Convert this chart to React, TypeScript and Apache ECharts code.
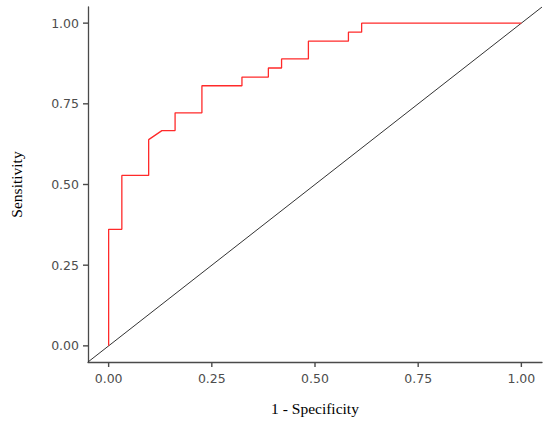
import React, { useEffect, useRef } from "react";
import * as echarts from "echarts";

// ROC curve vertices (1 - specificity, sensitivity)
const fpr = [0, 0, 0.032, 0.032, 0.097, 0.097, 0.129, 0.161, 0.161, 0.226, 0.226, 0.323, 0.323, 0.387, 0.387, 0.419, 0.419, 0.484, 0.484, 0.581, 0.581, 0.613, 0.613, 1];
const tpr = [0, 0.361, 0.361, 0.528, 0.528, 0.639, 0.667, 0.667, 0.722, 0.722, 0.806, 0.806, 0.833, 0.833, 0.861, 0.861, 0.889, 0.889, 0.944, 0.944, 0.972, 0.972, 1, 1];

// reference diagonal endpoints
const diagX = [-0.05, 1.05];
const diagY = [-0.05, 1.05];

const axisMin = -0.05;
const axisMax = 1.05;
const tickValues = [0, 0.25, 0.5, 0.75, 1];
const xTitle = "1 - Specificity";
const yTitle = "Sensitivity";

const axisColor = "#4a4a4a";
const tickLen = 5;

export default function App() {
  const ref = useRef<HTMLDivElement>(null);
  useEffect(() => {
    if (!ref.current) return;
    const chart = echarts.init(ref.current, null, { renderer: "svg" });
    const axisCommon = {
      type: "value" as const,
      min: axisMin,
      max: axisMax,
      splitLine: { show: false },
      axisLine: { show: true, onZero: false, lineStyle: { color: axisColor, width: 1.3 } },
      axisTick: { show: false },
      axisLabel: {
        customValues: tickValues,
        color: "#4d4d4d",
        fontFamily: "DejaVu Sans",
        fontSize: 12.5,
        formatter: (v: number) => v.toFixed(2),
      },
      nameLocation: "middle" as const,
      nameTextStyle: { fontFamily: "Liberation Serif", fontSize: 15.5, color: "#000" },
    };
    chart.setOption({
      animation: false,
      grid: { left: 87, right: 8, top: 7, bottom: 61 },
      xAxis: {
        ...axisCommon,
        name: xTitle,
        nameGap: 38,
        axisLabel: { ...axisCommon.axisLabel, margin: 10 },
      },
      yAxis: {
        ...axisCommon,
        name: yTitle,
        nameGap: 64,
        axisLabel: { ...axisCommon.axisLabel, margin: 9 },
      },
      series: [
        {
          type: "line",
          data: diagX.map((x, i) => [x, diagY[i]]),
          showSymbol: false,
          lineStyle: { color: "#333333", width: 1 },
          silent: true,
        },
        {
          type: "line",
          data: fpr.map((x, i) => [x, tpr[i]]),
          showSymbol: false,
          lineStyle: { color: "#ff2a2a", width: 1.3 },
          silent: true,
        },
      ],
    });

    // tick marks placed through the axes' own scales
    const ticks: any[] = [];
    tickValues.forEach((v) => {
      const px = chart.convertToPixel({ gridIndex: 0 }, [v, axisMin]) as number[];
      ticks.push({
        type: "line",
        shape: { x1: px[0], y1: px[1], x2: px[0], y2: px[1] + tickLen },
        style: { stroke: axisColor, lineWidth: 1.4 },
        silent: true,
        z: 10,
      });
      const py = chart.convertToPixel({ gridIndex: 0 }, [axisMin, v]) as number[];
      ticks.push({
        type: "line",
        shape: { x1: py[0] - tickLen, y1: py[1], x2: py[0], y2: py[1] },
        style: { stroke: axisColor, lineWidth: 1.4 },
        silent: true,
        z: 10,
      });
    });
    chart.setOption({ graphic: ticks });

    return () => chart.dispose();
  }, []);
  return (
    <div
      ref={ref}
      style={{ position: "fixed", left: 0, top: 0, width: 550, height: 423, background: "#fff" }}
    />
  );
}
